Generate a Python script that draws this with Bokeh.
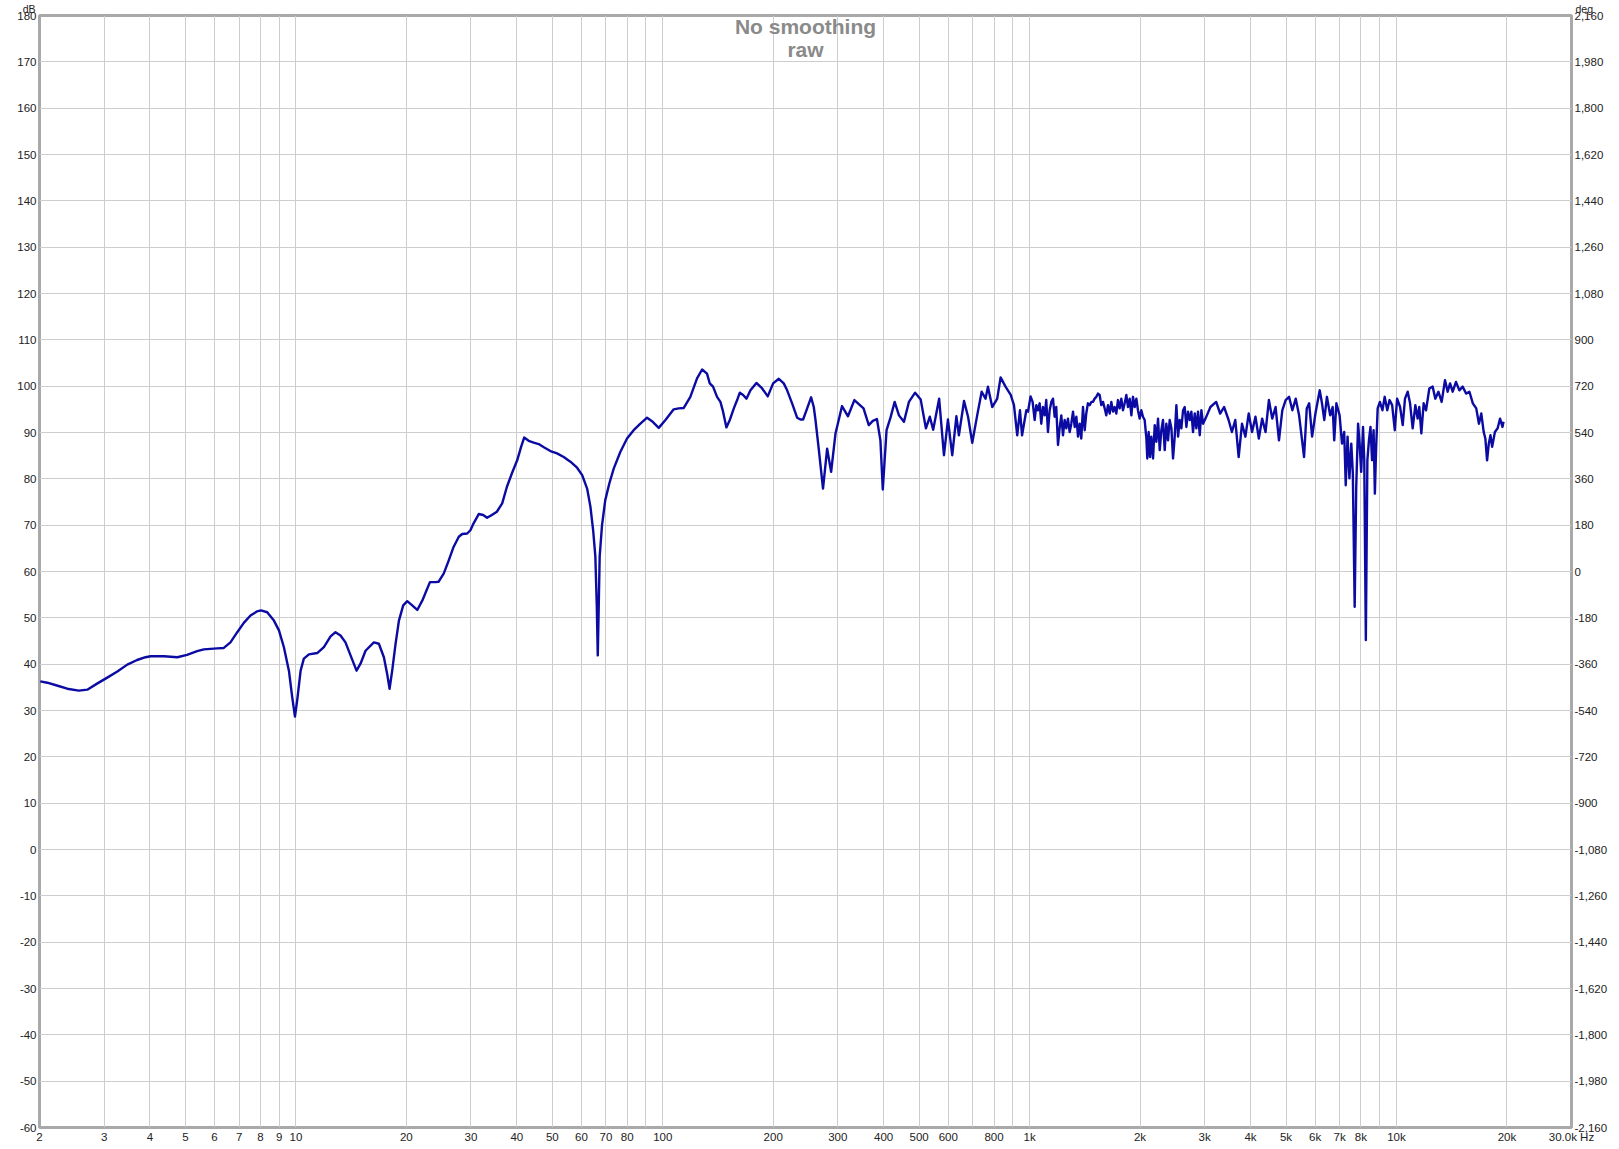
from bokeh.plotting import figure
from bokeh.models import Range1d, LinearAxis, FixedTicker, NumeralTickFormatter, Label
from bokeh.embed import file_html
from bokeh.resources import INLINE

# ---------------- data ----------------
freq_band1 = [2.01, 2.10, 2.23, 2.38, 2.56, 2.70, 2.87, 3.06, 3.26, 3.47, 3.69, 3.89, 4.02, 4.37, 4.75,
              5.05, 5.38, 5.61, 6.10, 6.36, 6.63, 6.92, 7.21, 7.52, 7.84, 8.03, 8.35, 8.71, 8.99, 9.27,
              9.57, 9.77, 9.94, 10.08, 10.30, 10.51, 10.85, 11.43, 11.92, 12.43, 12.82, 13.23, 13.65,
              14.09, 14.63, 15.00, 15.48, 16.31, 16.83, 17.37, 17.73, 18.00, 18.30, 18.69, 19.09, 19.61,
              20.11, 20.75, 21.42, 22.10, 23.19]
db_band1 = [36.3, 36.0, 35.4, 34.7, 34.3, 34.5, 35.8, 37.1, 38.4, 39.9, 40.9, 41.5, 41.7, 41.7, 41.5,
            42.0, 42.8, 43.2, 43.4, 43.5, 44.7, 46.9, 48.9, 50.5, 51.4, 51.6, 51.2, 49.4, 47.3, 43.7,
            38.6, 32.9, 28.7, 32.2, 38.6, 41.2, 42.1, 42.4, 43.7, 46.0, 46.9, 46.2, 44.7,
            41.9, 38.6, 40.1, 42.9, 44.7, 44.4, 41.5, 37.9, 34.7, 38.6, 44.4, 49.4, 52.7,
            53.6, 52.7, 51.7, 53.7, 57.7]

freq_band2 = [24.0, 24.5, 25.3, 26.1, 26.9, 27.8, 28.4, 29.3, 29.9, 30.5, 31.5, 32.4, 33.2, 34.2, 35.3,
              36.5, 37.6, 38.8, 40.1, 41.1, 41.9, 43.1, 44.5, 45.9, 47.4, 49.4, 51.5, 53.7, 56.0, 58.4,
              60.3, 62.2, 63.5, 64.6, 65.5, 66.1, 66.5, 66.9, 67.3, 68.3, 69.7, 71.5, 73.5, 76.6, 79.9,
              83.3, 86.9, 90.6, 93.9, 97.5, 101.7, 107.1, 110.5, 114.1, 118.9, 124.0, 128.0, 132.0, 134.3]
db_band2 = [57.7, 57.8, 59.6, 62.4, 65.3, 67.5, 68.1, 68.2, 68.9, 70.4, 72.4, 72.2, 71.6, 72.2, 72.9,
            74.7, 78.3, 81.2, 84.0, 86.9, 88.9, 88.2, 87.8, 87.5, 86.8, 86.0, 85.5, 84.7, 83.7, 82.4,
            80.8, 77.9, 74.0, 68.9, 63.2, 52.4, 41.9, 52.4, 63.2, 70.0, 75.4, 79.0, 82.2, 85.8, 88.7,
            90.5, 91.9, 93.2, 92.3, 91.0, 92.7, 95.0, 95.2, 95.3, 97.7, 101.7, 103.6, 102.7, 100.6]

freq_band3 = [137.1, 140.6, 143.6, 146.0, 149.1, 152.3, 156.2, 159.5, 162.2, 165.6, 169.1, 173.4, 180.0,
              186.6, 193.3, 199.9, 207.2, 213.7, 218.3, 225.2, 232.4, 237.3, 241.3, 247.5, 253.7, 258.0,
              260.8, 266.4, 273.4, 280.6, 287.7, 295.7, 308.1, 319.8, 332.9, 352.6, 364.4, 373.8, 383.5,
              392.0, 397.9, 407.4, 417.6, 428.7, 440.4, 454.3, 468.8, 487.4, 504.8, 521.5, 534.6, 545.9,
              566.7, 584.1, 598.9, 615.3, 631.5, 641.5, 662.6, 679.5, 697.6, 719.6, 740.1, 758.3, 769.8,
              790.9, 816.0, 833.5, 859.6, 888.2, 906.4, 925.2, 941.2, 953.7, 979.5]
db_band3 = [99.9, 97.7, 96.6, 94.5, 91.1, 92.7, 95.2, 97.0, 98.6, 98.1, 97.3, 99.1, 100.7,
            99.5, 97.8, 100.6, 101.6, 100.6, 99.1, 96.3, 93.2, 92.8, 92.8, 95.2, 97.6, 95.5,
            92.7, 86.2, 77.9, 86.5, 81.5, 89.8, 95.7, 93.5, 97.0, 95.2, 91.6, 92.5, 92.9,
            88.3, 77.7, 90.5, 93.2, 96.6, 93.7, 92.3, 96.6, 98.6, 97.1, 90.9, 93.4, 90.6,
            97.3, 85.1, 92.8, 85.1, 93.5, 89.4, 96.8, 93.4, 87.8, 93.7, 98.8, 97.3, 99.9,
            95.5, 97.3, 101.9, 99.9, 98.1, 95.9, 89.4, 94.8, 89.4, 94.8]

freq_band4a = [990, 1006, 1019, 1032, 1043, 1054, 1065, 1076, 1087, 1099,
               1110, 1122, 1134, 1146, 1158, 1170, 1182, 1195, 1207, 1220,
               1233, 1246, 1259, 1272, 1286, 1299, 1313, 1327, 1341, 1355,
               1369, 1383, 1398, 1413, 1427, 1442, 1458, 1473, 1488, 1504,
               1520, 1536, 1552, 1568, 1585, 1602, 1618, 1635, 1653, 1670,
               1688, 1705, 1723, 1741, 1760, 1778, 1797, 1816, 1835, 1854,
               1874, 1894, 1913, 1934, 1954, 1974, 1995, 2016, 2037, 2059,
               2081, 2093, 2111, 2129, 2147, 2170, 2193, 2216, 2239, 2263,
               2286, 2310, 2335, 2359, 2384, 2409, 2435, 2460, 2486, 2512,
               2539, 2565, 2592, 2620, 2647, 2675, 2703, 2732, 2760, 2789,
               2819, 2848, 2878, 2909, 2939, 2970]
db_band4a = [94.5, 97.8, 96.6, 92.7, 95.9, 94.8, 96.3, 91.9, 95.5, 93.7,
             97.0, 90.1, 94.8, 96.6, 97.3, 93.4, 95.5, 87.3, 90.9, 93.7,
             89.4, 92.7, 90.9, 93.0, 90.1, 91.9, 94.5, 91.2, 93.4, 89.1,
             91.9, 88.7, 95.5, 90.5, 94.1, 96.3, 95.9, 96.6, 96.6, 97.3,
             97.7, 98.4, 98.1, 95.9, 96.6, 95.2, 93.7, 95.9, 94.1, 96.6,
             94.5, 95.5, 94.1, 97.0, 95.2, 97.3, 94.8, 96.3, 98.1, 95.5,
             97.3, 93.7, 97.7, 95.5, 97.3, 94.8, 93.0, 94.8, 93.4, 92.7,
             88.7, 84.4, 90.1, 84.7, 89.1, 84.4, 91.6, 88.0, 93.0, 86.2,
             90.5, 92.7, 86.2, 91.9, 88.3, 92.7, 90.9, 84.4, 89.1, 95.9,
             89.1, 92.7, 90.9, 94.8, 95.5, 91.2, 94.5, 92.7, 94.5, 90.1,
             94.1, 90.9, 94.5, 89.4, 94.8, 91.9]

freq_band4b = [3016, 3111, 3225, 3306, 3389, 3487, 3560, 3636, 3714, 3793, 3874, 3956, 4040, 4127, 4215,
               4304, 4396, 4490, 4585, 4683, 4783, 4884, 4988, 5095, 5203, 5314, 5427]
db_band4b = [93.0, 95.5, 96.6, 94.1, 95.5, 92.7, 90.1, 92.7, 84.7, 91.9, 89.1, 94.1, 90.1, 93.4, 88.7,
             93.0, 90.1, 97.0, 93.0, 95.5, 88.3, 94.8, 97.0, 97.7, 94.8, 97.3, 93.7]

freq_band5 = [5599, 5695, 5781, 5889, 6013, 6178, 6266, 6357, 6462, 6597, 6700, 6766, 6858, 6998, 7106,
              7203, 7273, 7357, 7443, 7531, 7604, 7693, 7768, 7859, 7935, 8013, 8107, 8170, 8251, 8331,
              8413, 8496, 8579, 8663, 8732, 8800, 8887, 9011, 9157, 9286, 9439, 9575, 9733, 9895, 10040,
              10230, 10400, 10550, 10730, 10890, 11070, 11260, 11420, 11540, 11690, 11860, 12040, 12290,
              12550, 12760, 13010, 13280, 13560, 13790, 14000, 14230, 14530, 14840, 15150, 15480, 15810,
              16150, 16500, 16780, 17030, 17290, 17470, 17660, 17850, 18040, 18230, 18550, 18870, 19160,
              19450, 19580]
db_band5 = [84.7, 95.2, 96.3, 89.1, 94.1, 99.1, 96.3, 92.7, 97.7, 93.7, 95.5, 88.3, 96.3, 93.7, 87.6,
            90.1, 78.6, 89.1, 80.1, 87.6, 81.2, 52.4, 78.3, 91.9, 87.6, 81.5, 91.2, 84.0, 45.2, 84.0,
            88.3, 91.2, 84.0, 90.5, 76.8, 86.5, 95.2, 96.6, 94.8, 97.7, 94.8, 97.0, 95.9, 90.5, 97.3,
            95.5, 91.6, 97.3, 98.8, 96.3, 90.9, 95.9, 93.0, 95.5, 89.8, 96.3, 94.8, 99.5,
            99.9, 97.3, 98.8, 96.6, 101.3, 98.8, 100.6, 98.8, 100.9, 99.1, 99.9, 98.4, 98.8,
            96.3, 95.2, 91.9, 94.1, 90.1, 88.7, 84.0, 87.6, 89.4, 86.9, 90.1, 90.9, 93.0,
            91.2, 92.3]

x_tick_values = [2, 3, 4, 5, 6, 7, 8, 9, 10, 20, 30, 40, 50, 60, 70, 80, 90, 100, 200, 300, 400, 500,
                 600, 700, 800, 900, 1000, 2000, 3000, 4000, 5000, 6000, 7000, 8000, 9000, 10000, 20000,
                 30000]
x_tick_labels = ["2", "3", "4", "5", "6", "7", "8", "9", "10", "20", "30", "40", "50", "60", "70", "80",
                 "", "100", "200", "300", "400", "500", "600", "", "800", "", "1k", "2k", "3k", "4k",
                 "5k", "6k", "7k", "8k", "", "10k", "20k", "30.0k Hz"]
db_ticks = list(range(-60, 181, 10))
deg_ticks = list(range(-2160, 2161, 180))

title_lines = ["No smoothing", "raw"]
unit_left = "dB"
unit_right = "deg"

# ---------------- figure ----------------
freq = freq_band1 + freq_band2 + freq_band3 + freq_band4a + freq_band4b + freq_band5
level = db_band1 + db_band2 + db_band3 + db_band4a + db_band4b + db_band5

FONT = "Liberation Sans"
TICK_COLOR = "#222222"
GRID = "#cdcdcd"

p = figure(width=1619, height=1149, x_axis_type="log",
           x_range=Range1d(2, 30000), y_range=Range1d(-60, 180),
           output_backend="svg", toolbar_location=None,
           min_border_left=39, min_border_right=48, min_border_top=15, min_border_bottom=22,
           background_fill_color="white", border_fill_color="white")
p.outline_line_color = "#a9a9a9"
p.outline_line_width = 3

p.extra_y_ranges = {"deg": Range1d(-2160, 2160)}
right_axis = LinearAxis(y_range_name="deg", ticker=FixedTicker(ticks=deg_ticks),
                        formatter=NumeralTickFormatter(format="0,0"))
p.add_layout(right_axis, "right")

p.xaxis.ticker = FixedTicker(ticks=x_tick_values)
p.xaxis.major_label_overrides = {v: l for v, l in zip(x_tick_values, x_tick_labels)}
left_axis = p.yaxis[0]
left_axis.ticker = FixedTicker(ticks=db_ticks)
left_axis.formatter = NumeralTickFormatter(format="0")

for ax in p.xaxis + p.yaxis:
    ax.axis_line_color = None
    ax.major_tick_line_color = None
    ax.minor_tick_line_color = None
    ax.major_tick_out = 0
    ax.major_tick_in = 0
    ax.major_label_text_font = FONT
    ax.major_label_text_font_size = "11.5px"
    ax.major_label_text_color = TICK_COLOR
    ax.major_label_standoff = 3

p.xgrid.ticker = FixedTicker(ticks=x_tick_values)
p.ygrid.ticker = FixedTicker(ticks=db_ticks)
p.xgrid.grid_line_color = GRID
p.ygrid.grid_line_color = GRID

p.line(freq, level, line_color="#0b0ba3", line_width=2.4, line_join="round")

# titles
for i, t in enumerate(title_lines):
    p.add_layout(Label(x=244.95, y=180, y_offset=1 - 23 * i, text=t, text_align="center",
                       text_baseline="top", text_font=FONT, text_font_size="21px",
                       text_font_style="bold", text_color="#8a8a8a"))

# unit labels above the two value axes; they live in border panels so they are not clipped
p.add_layout(Label(x=2, y=180, x_offset=-4, y_offset=7, text=unit_left, text_align="right",
                   text_baseline="alphabetic", text_font=FONT, text_font_size="10.5px",
                   text_color=TICK_COLOR), "left")
p.add_layout(Label(x=30000, y=180, x_offset=4, y_offset=7, text=unit_right, text_align="left",
                   text_baseline="alphabetic", text_font=FONT, text_font_size="10.5px",
                   text_color=TICK_COLOR), "above")

open("out.html", "w").write(file_html(p, INLINE))
